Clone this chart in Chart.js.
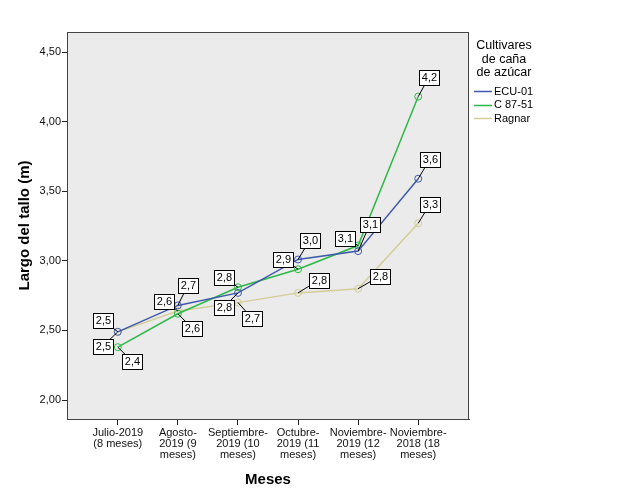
<!DOCTYPE html>
<html>
<head>
<meta charset="utf-8">
<script src="https://cdn.jsdelivr.net/npm/chart.js@4"></script>
<style>
  html, body { margin: 0; padding: 0; background: #fff; }
  canvas { display: block; }
</style>
</head>
<body>
<canvas id="chart" width="626" height="501"></canvas>
<script>
// Largo del tallo por cultivar — SPSS-style line chart.

const CATEGORIES = [
  ['Julio-2019', '(8 meses)'],
  ['Agosto-', '2019 (9', 'meses)'],
  ['Septiembre-', '2019 (10', 'meses)'],
  ['Octubre-', '2019 (11', 'meses)'],
  ['Noviembre-', '2019 (12', 'meses)'],
  ['Noviembre-', '2018 (18', 'meses)'],
];
const ECU_01 = [2.49, 2.68, 2.77, 3.01, 3.07, 3.59];
const C_87_51 = [2.38, 2.62, 2.81, 2.94, 3.11, 4.18];
const RAGNAR = [2.49, 2.64, 2.70, 2.77, 2.80, 3.27];
const Y_TICKS = [2.0, 2.5, 3.0, 3.5, 4.0, 4.5];
const LEGEND_TITLE = ['Cultivares', 'de caña', 'de azúcar'];

// where each value box sits relative to its point (px)
const LABEL_OFFSETS = [
  [[-15, -12], [10, -20], [-14, 14], [12, -19], [12, -27], [12, -20]],
  [[14, 14], [14, 14], [-14, -10], [-15, -10], [-13, -8], [11, -20]],
  [[-15, 14], [-14, -10], [14, 15], [21, -13], [22, -13], [12, -19]],
];

const COLORS = ['#3e58ac', '#2eb848', '#d3ce97'];
const FONT = "'Liberation Sans', Arial, sans-serif";
const comma = (v, d) => v.toFixed(d).replace('.', ',');

Chart.defaults.font.family = FONT;
Chart.defaults.color = '#000';

function series(label, values, color) {
  return {
    label,
    data: values.map((v, i) => ({ x: i, y: v })),
    borderColor: color,
    backgroundColor: 'transparent',
    borderWidth: 1.5,
    pointRadius: 3.5,
    pointBorderWidth: 1,
    pointBorderColor: color,
    pointBackgroundColor: 'transparent',
    tension: 0,
  };
}

const plotFrame = {
  id: 'plotFrame',
  beforeDraw(chart) {
    const { ctx, chartArea: a } = chart;
    ctx.save();
    ctx.fillStyle = '#ebebeb';
    ctx.fillRect(a.left, a.top, a.right - a.left, a.bottom - a.top);
    ctx.restore();
  },
  beforeDatasetsDraw(chart) {
    const { ctx, chartArea: a } = chart;
    ctx.save();
    ctx.strokeStyle = '#444';
    ctx.lineWidth = 1;
    ctx.strokeRect(a.left + 0.5, a.top + 0.5, a.right - a.left - 1, a.bottom - a.top);
    ctx.restore();
  },
};

const valueBoxes = {
  id: 'valueBoxes',
  afterDatasetsDraw(chart) {
    const ctx = chart.ctx;
    ctx.save();
    ctx.font = '11px ' + FONT;
    ctx.textAlign = 'center';
    ctx.textBaseline = 'middle';
    chart.data.datasets.forEach((ds, di) => {
      chart.getDatasetMeta(di).data.forEach((pt, i) => {
        const [dx, dy] = LABEL_OFFSETS[di][i];
        const cx = Math.round(pt.x + dx), cy = Math.round(pt.y + dy);
        const text = comma(ds.data[i].y, 1);
        const w = Math.ceil(ctx.measureText(text).width) + 4, h = 15;
        ctx.strokeStyle = '#000';
        ctx.lineWidth = 1;
        ctx.beginPath();
        ctx.moveTo(pt.x, pt.y);
        ctx.lineTo(cx, cy);
        ctx.stroke();
        const x0 = Math.round(cx - w / 2) + 0.5, y0 = Math.round(cy - h / 2) + 0.5;
        ctx.fillStyle = '#fff';
        ctx.fillRect(x0, y0, w, h);
        ctx.strokeRect(x0, y0, w, h);
        ctx.fillStyle = '#000';
        ctx.fillText(text, cx + 0.5, cy + 1);
      });
    });
    ctx.restore();
  },
};

const sideLegend = {
  id: 'sideLegend',
  afterDraw(chart) {
    const ctx = chart.ctx;
    ctx.save();
    ctx.fillStyle = '#000';
    ctx.textBaseline = 'middle';
    ctx.font = '12.5px ' + FONT;
    ctx.textAlign = 'center';
    LEGEND_TITLE.forEach((t, i) => ctx.fillText(t, 504, 46 + i * 13.5));
    ctx.font = '11px ' + FONT;
    ctx.textAlign = 'left';
    chart.data.datasets.forEach((ds, i) => {
      const y = 91 + i * 13.5;
      ctx.strokeStyle = ds.borderColor;
      ctx.lineWidth = 1.5;
      ctx.beginPath();
      ctx.moveTo(474, Math.round(y) + 0.5);
      ctx.lineTo(492, Math.round(y) + 0.5);
      ctx.stroke();
      ctx.fillText(ds.label, 494, y + 0.5);
    });
    ctx.restore();
  },
};

new Chart(document.getElementById('chart'), {
  type: 'line',
  data: {
    datasets: [
      series('ECU-01', ECU_01, COLORS[0]),
      series('C 87-51', C_87_51, COLORS[1]),
      series('Ragnar', RAGNAR, COLORS[2]),
    ],
  },
  options: {
    responsive: false,
    animation: false,
    layout: { padding: { left: 0, right: 157, top: 32, bottom: 0 } },
    plugins: { legend: { display: false }, tooltip: { enabled: false } },
    scales: {
      x: {
        type: 'linear',
        min: -0.845,
        max: CATEGORIES.length - 1 + 0.845,
        afterBuildTicks: (s) => { s.ticks = CATEGORIES.map((_, i) => ({ value: i })); },
        afterFit: (s) => { s.height = 82; },
        ticks: {
          autoSkip: false,
          maxRotation: 0,
          padding: 3,
          font: { size: 11, lineHeight: 0.98 },
          color: '#111',
          callback: (v) => CATEGORIES[v],
        },
        grid: { drawOnChartArea: false, drawTicks: true, tickLength: 6, color: '#222' },
        border: { display: true, color: '#444' },
        title: {
          display: true,
          text: 'Meses',
          font: { size: 15, weight: 'bold' },
          padding: { top: 0, bottom: 12 },
        },
      },
      y: {
        min: 1.864,
        max: 4.644,
        afterBuildTicks: (s) => { s.ticks = Y_TICKS.map((v) => ({ value: v })); },
        afterFit: (s) => { s.width = 67; },
        ticks: {
          padding: 1,
          font: { size: 11 },
          color: '#111',
          callback: (v) => comma(v, 2),
        },
        grid: { drawOnChartArea: false, drawTicks: true, tickLength: 5, color: '#222' },
        border: { display: true, color: '#444' },
        title: {
          display: true,
          text: 'Largo del tallo (m)',
          font: { size: 15, weight: 'bold' },
          padding: { top: 16, bottom: 0 },
        },
      },
    },
  },
  plugins: [plotFrame, valueBoxes, sideLegend],
});
</script>
</body>
</html>
